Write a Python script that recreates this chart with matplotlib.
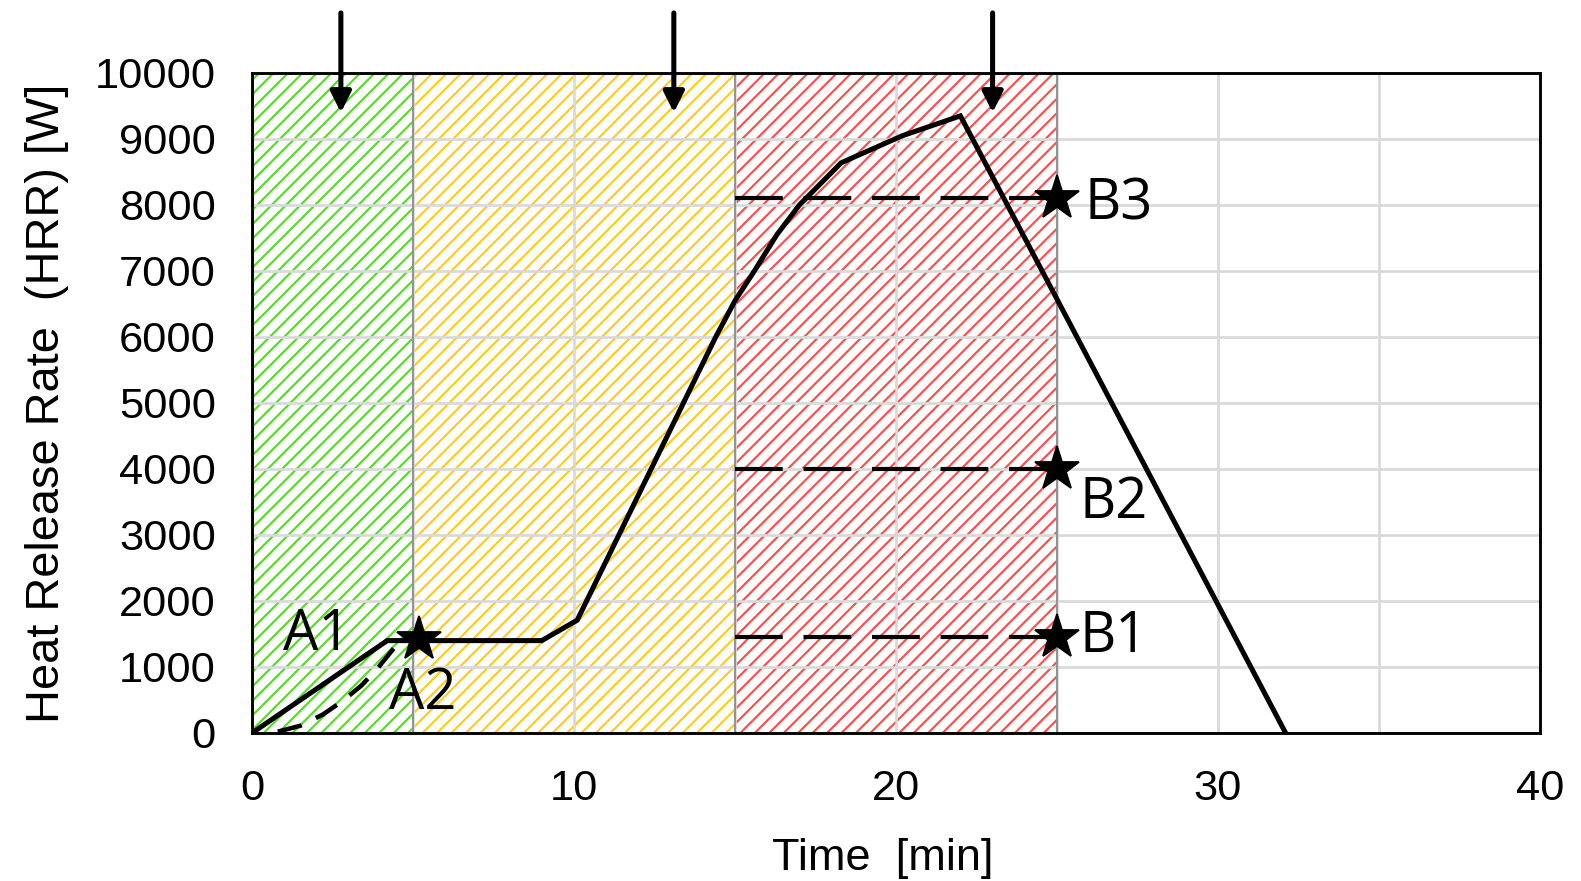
import numpy as np
import matplotlib.pyplot as plt

plt.rcParams['font.family'] = ['Liberation Sans', 'DejaVu Sans']
plt.rcParams['hatch.linewidth'] = 1.2

DPI = 130

# HRR curve [min], [W]
time_min = [0, 4.2, 9.0, 10.1, 14.4, 15.0, 15.6, 16.3, 17.0, 18.3, 20.2, 22.0, 32.1]
hrr_w = [0, 1400, 1400, 1710, 6000, 6550, 7000, 7550, 8000, 8640, 9050, 9350, 0]

# t-squared growth curve (A2)
a2_time = [0.8, 1.5, 2.2, 2.8, 3.4, 3.9, 4.4]
a2_hrr = [20, 110, 280, 480, 720, 980, 1280]

# fire stages
zone_edges = [(0, 5), (5, 15), (15, 25)]
zone_colors = ['#55dd22', '#ffcc1a', '#ff4d4d']

# design fire points
star_a = (5.2, 1420)
b_levels = [1450, 4000, 8100]
b_names = ['B1', 'B2', 'B3']
b_time = 25
b_start = 15

arrow_x = [2.76, 13.1, 23.0]

fig = plt.figure(figsize=(1581 / DPI, 881 / DPI), dpi=DPI)
ax = fig.add_axes([252 / 1581, 1 - 733 / 881, 1288 / 1581, 660 / 881])

for (x0, x1), c in zip(zone_edges, zone_colors):
    ax.axvspan(x0, x1, facecolor='none', edgecolor=c, hatch='///',
               linewidth=0, zorder=0.2)
for x in [5, 15, 25]:
    ax.axvline(x, color='#8c8c8c', lw=1.0, zorder=0.6)

ax.plot(time_min, hrr_w, color='black', lw=2.8, zorder=3,
        solid_joinstyle='miter')
ax.plot(a2_time, a2_hrr, color='black', lw=2.5, ls=(0, (5.5, 3.5)), zorder=3)

for lvl in b_levels:
    ax.plot([b_start, b_time], [lvl, lvl], color='black', lw=2.3,
            ls=(0, (11.5, 5)), zorder=3)
ax.plot([b_time] * len(b_levels), b_levels, ls='none', marker='*',
        ms=26, color='black', zorder=4)
ax.plot(*star_a, marker='*', ms=26, color='black', zorder=4)

lab_font = dict(family=['Open Sans', 'DejaVu Sans'], fontsize=31,
                ha='center', va='center', zorder=5)
ax.text(2.0, 1470, 'A1', **lab_font)
ax.text(5.3, 590, 'A2', **lab_font)
ax.text(26.9, 8000, 'B3', **lab_font)
ax.text(26.75, 3480, 'B2', **lab_font)
ax.text(26.75, 1450, 'B1', **lab_font)

for x in arrow_x:
    ax.annotate('', xy=(x, 9400), xytext=(x, 10910), annotation_clip=False,
                arrowprops=dict(arrowstyle='-|>', lw=2.8, color='black',
                                mutation_scale=24, shrinkA=0, shrinkB=0))

ax.set_xlim(0, 40)
ax.set_ylim(0, 10000)
ax.set_xticks(np.arange(0, 41, 10))
ax.set_xticks(np.arange(0, 41, 5), minor=True)
ax.set_yticks(np.arange(0, 10001, 1000))
ax.grid(True, which='both', color='#d9d9d9', lw=1.5)
ax.set_axisbelow(True)
ax.tick_params(which='both', length=0, labelsize=24, pad=20)
for s in ax.spines.values():
    s.set_linewidth(1.6)
    s.set_zorder(6)

ax.set_xlabel('Time  [min]', fontsize=25, labelpad=16, x=0.49)
ax.set_ylabel('Heat Release Rate  (HRR) [W]', fontsize=26, labelpad=14)

fig.savefig('out.png', dpi=DPI)
